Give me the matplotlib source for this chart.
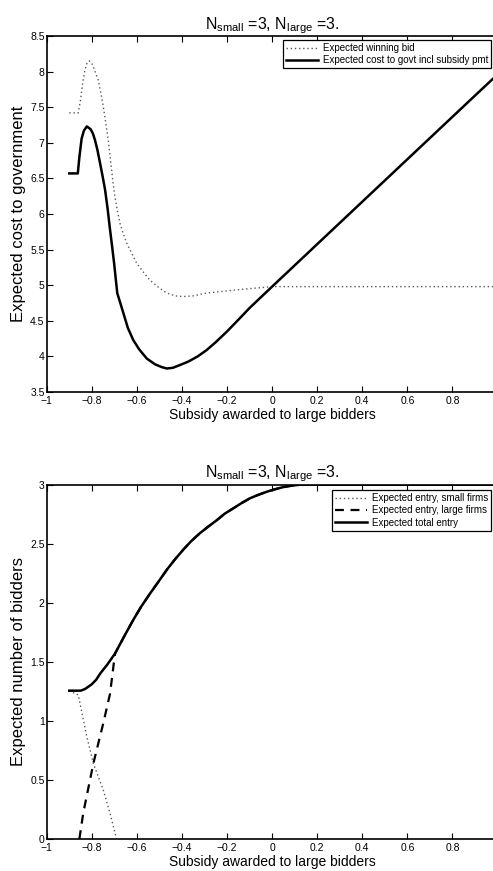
import matplotlib
matplotlib.use("Agg")
import matplotlib.pyplot as plt

plt.rcParams['font.family'] = ['Liberation Sans', 'DejaVu Sans']
plt.rcParams['mathtext.fontset'] = 'custom'
plt.rcParams['mathtext.rm'] = 'Liberation Sans'
plt.rcParams['mathtext.it'] = 'Liberation Sans'

# top panel: expected winning bid (dotted)
bid_x = [-0.90, -0.86, -0.85, -0.84, -0.83, -0.82, -0.811, -0.80, -0.79, -0.771, -0.76,
         -0.749, -0.738, -0.727, -0.712, -0.705, -0.697, -0.686, -0.675, -0.66, -0.645,
         -0.62, -0.601, -0.57, -0.542, -0.50, -0.467, -0.43, -0.394, -0.35, -0.29,
         -0.2, -0.142, -0.07, 0.0, 0.98]
bid_y = [7.42, 7.42, 7.6, 7.85, 8.03, 8.13, 8.15, 8.12, 8.04, 7.88, 7.70,
         7.51, 7.28, 7.04, 6.62, 6.42, 6.24, 6.04, 5.87, 5.72, 5.59,
         5.43, 5.31, 5.18, 5.07, 4.96, 4.89, 4.85, 4.84, 4.85, 4.89,
         4.92, 4.94, 4.96, 4.98, 4.98]

# top panel: expected cost to govt incl subsidy pmt (solid)
cost_x = [-0.90, -0.862, -0.855, -0.845, -0.835, -0.822, -0.805, -0.795, -0.786, -0.775,
          -0.763, -0.752, -0.741, -0.73, -0.719, -0.71, -0.701, -0.694, -0.687, -0.66,
          -0.64, -0.616, -0.59, -0.556, -0.52, -0.49, -0.467, -0.44, -0.408, -0.37,
          -0.33, -0.29, -0.25, -0.2, -0.142, -0.1, -0.05, 0.0, 0.879, 0.98]
cost_y = [6.57, 6.57, 6.8, 7.06, 7.17, 7.23, 7.19, 7.13, 7.04, 6.90,
          6.71, 6.53, 6.34, 6.08, 5.78, 5.55, 5.31, 5.10, 4.89, 4.61,
          4.40, 4.23, 4.10, 3.97, 3.89, 3.85, 3.83, 3.84, 3.88, 3.93,
          4.00, 4.09, 4.20, 4.35, 4.54, 4.68, 4.83, 4.98, 7.60, 7.90]

# bottom panel: expected entry
small_x = [-0.90, -0.86, -0.822, -0.793, -0.749, -0.719, -0.69]
small_y = [1.256, 1.22, 0.866, 0.64, 0.415, 0.218, 0.0]

large_x = [-0.855, -0.838, -0.793, -0.749, -0.719, -0.697, -0.655, -0.616, -0.58, -0.541,
           -0.50, -0.467, -0.43, -0.394, -0.36, -0.32, -0.28, -0.245, -0.21, -0.172,
           -0.135, -0.098, -0.06, -0.024, 0.01, 0.05, 0.09, 0.124, 0.98]
large_y = [0.0, 0.218, 0.64, 0.98, 1.23, 1.57, 1.72, 1.855, 1.97, 2.08,
           2.19, 2.28, 2.37, 2.45, 2.52, 2.59, 2.65, 2.70, 2.755, 2.80,
           2.845, 2.885, 2.915, 2.94, 2.96, 2.98, 2.993, 3.0, 3.0]

total_x = [-0.90, -0.849, -0.83, -0.80, -0.78, -0.763, -0.73, -0.697, -0.655, -0.616,
           -0.58, -0.541, -0.50, -0.467, -0.43, -0.394, -0.36, -0.32, -0.28, -0.245,
           -0.21, -0.172, -0.135, -0.098, -0.06, -0.024, 0.01, 0.05, 0.09, 0.124, 0.98]
total_y = [1.256, 1.256, 1.27, 1.31, 1.35, 1.40, 1.48, 1.57, 1.72, 1.855,
           1.97, 2.08, 2.19, 2.28, 2.37, 2.45, 2.52, 2.59, 2.65, 2.70,
           2.755, 2.80, 2.845, 2.885, 2.915, 2.94, 2.96, 2.98, 2.993, 3.0, 3.0]

xticks = [-1, -0.8, -0.6, -0.4, -0.2, 0, 0.2, 0.4, 0.6, 0.8]
xticklabels = ['\u22121', '\u22120.8', '\u22120.6', '\u22120.4', '\u22120.2',
               '0', '0.2', '0.4', '0.6', '0.8']
top_yticks = [3.5, 4, 4.5, 5, 5.5, 6, 6.5, 7, 7.5, 8, 8.5]
bot_yticks = [0, 0.5, 1, 1.5, 2, 2.5, 3]

title = r'N$_{\mathrm{small}}$ =3, N$_{\mathrm{large}}$ =3.'
xlabel = 'Subsidy awarded to large bidders'

W, H = 493, 871
fig = plt.figure(figsize=(W / 100, H / 100), dpi=100)


def px_axes(left, top, right, bottom):
    return fig.add_axes([left / W, 1 - bottom / H, (right - left) / W, (bottom - top) / H])


def style(ax, yticks):
    ax.set_xlim(-1, 1)
    ax.set_xticks(xticks)
    ax.set_xticklabels(xticklabels)
    ax.set_yticks(yticks)
    ax.set_yticklabels([('%g' % v) for v in yticks])
    ax.tick_params(direction='in', top=True, right=False, length=4, width=0.8,
                   labelsize=7.5)
    ax.tick_params(axis='x', pad=3)
    ax.tick_params(axis='y', pad=1.5)
    for s in ax.spines.values():
        s.set_linewidth(1.2)
    ax.set_title(title, fontsize=11.5, pad=5)
    ax.set_xlabel(xlabel, fontsize=10, labelpad=1.5)


def add_legend(ax, top_px):
    leg = ax.legend(loc='upper right', bbox_to_anchor=(491 / W, 1 - top_px / H),
                    bbox_transform=fig.transFigure, fontsize=7, frameon=True,
                    fancybox=False, edgecolor='black', framealpha=1,
                    handlelength=3.3, handletextpad=0.5, borderpad=0.3,
                    labelspacing=0.25, borderaxespad=0)
    leg.get_frame().set_linewidth(0.9)


ax1 = px_axes(46.7, 36, 497.5, 392)
ax1.plot(bid_x, bid_y, color='0.35', lw=1.0, ls=(0, (1, 2)), label='Expected winning bid')
ax1.plot(cost_x, cost_y, color='black', lw=1.8, label='Expected cost to govt incl subsidy pmt')
ax1.set_ylim(3.5, 8.5)
style(ax1, top_yticks)
ax1.set_ylabel('Expected cost to government', fontsize=12, labelpad=3)
add_legend(ax1, 40)

ax2 = px_axes(46.7, 484.7, 497.5, 839)
ax2.plot(small_x, small_y, color='0.35', lw=1.0, ls=(0, (1, 2)), label='Expected entry, small firms')
ax2.plot(large_x, large_y, color='black', lw=1.6, ls=(0, (4, 3)), label='Expected entry, large firms')
ax2.plot(total_x, total_y, color='black', lw=1.8, label='Expected total entry')
ax2.set_ylim(0, 3)
style(ax2, bot_yticks)
ax2.set_ylabel('Expected number of bidders', fontsize=12, labelpad=3)
add_legend(ax2, 490)

fig.savefig('out.png', dpi=100)
